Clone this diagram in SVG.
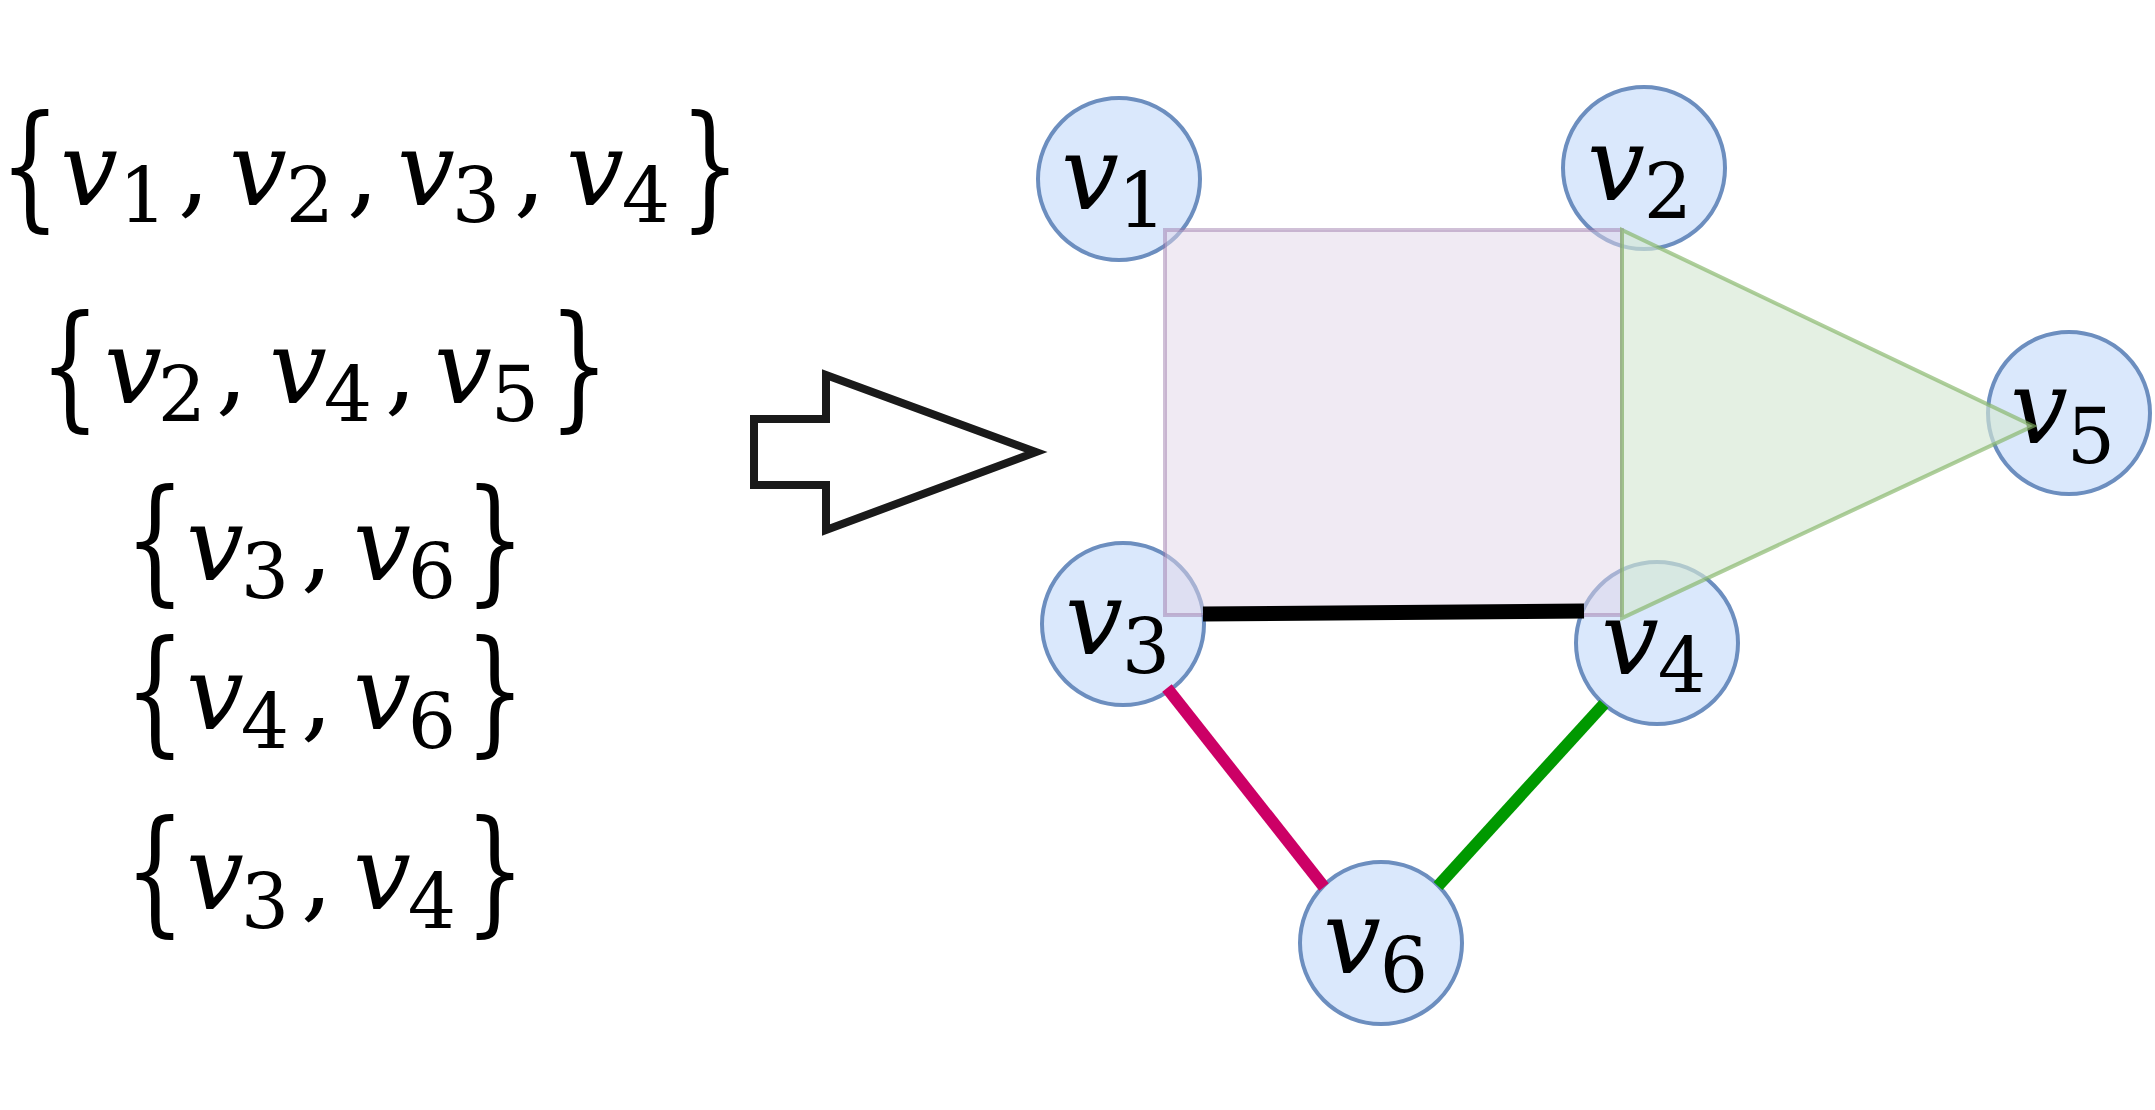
<svg xmlns="http://www.w3.org/2000/svg" width="2155" height="1110" viewBox="0 0 2155 1110">
<style>
.v{font-family:'DejaVu Serif',serif;font-style:italic;font-size:102px;text-anchor:middle;fill:#000}
.d{font-family:'DejaVu Serif',serif;font-size:76px;text-anchor:middle;fill:#000}
.c{font-family:'DejaVu Serif',serif;font-size:100px;text-anchor:middle;fill:#000}
.b{font-family:'DejaVu Serif',serif;font-size:100px;text-anchor:middle;fill:#000}
.node{fill:#dae8fc;stroke:#6c8ebf;stroke-width:4}
</style>
<rect width="2155" height="1110" fill="#fff"/>
<g id="sets">
<g id="set1">
<text class="b" transform="translate(30,213) scale(0.95,1.36)">{</text>
<text class="v" x="89" y="205">v</text><text class="d" x="143" y="222">1</text><text class="c" x="194" y="205">,</text>
<text class="v" x="258" y="205">v</text><text class="d" x="310" y="222">2</text><text class="c" x="363" y="205">,</text>
<text class="v" x="426" y="205">v</text><text class="d" x="476" y="222">3</text><text class="c" x="530" y="205">,</text>
<text class="v" x="595" y="205">v</text><text class="d" x="646" y="222">4</text>
<text class="b" transform="translate(710,213) scale(0.95,1.36)">}</text>
</g>
<g id="set2">
<text class="b" transform="translate(70,413) scale(0.95,1.36)">{</text>
<text class="v" x="133" y="403">v</text><text class="d" x="182" y="421">2</text><text class="c" x="232" y="403">,</text>
<text class="v" x="298" y="403">v</text><text class="d" x="348" y="421">4</text><text class="c" x="401" y="403">,</text>
<text class="v" x="463" y="403">v</text><text class="d" x="515" y="421">5</text>
<text class="b" transform="translate(579,413) scale(0.95,1.36)">}</text>
</g>
<g id="set3">
<text class="b" transform="translate(155,587) scale(0.95,1.36)">{</text>
<text class="v" x="215" y="580">v</text><text class="d" x="265" y="598">3</text><text class="c" x="317" y="580">,</text>
<text class="v" x="382" y="580">v</text><text class="d" x="432" y="598">6</text>
<text class="b" transform="translate(495,587) scale(0.95,1.36)">}</text>
</g>
<g id="set4">
<text class="b" transform="translate(155,738) scale(0.95,1.36)">{</text>
<text class="v" x="215" y="729">v</text><text class="d" x="265" y="748">4</text><text class="c" x="317" y="729">,</text>
<text class="v" x="382" y="729">v</text><text class="d" x="432" y="748">6</text>
<text class="b" transform="translate(495,738) scale(0.95,1.36)">}</text>
</g>
<g id="set5">
<text class="b" transform="translate(155,918) scale(0.95,1.36)">{</text>
<text class="v" x="215" y="909">v</text><text class="d" x="265" y="928">3</text><text class="c" x="317" y="909">,</text>
<text class="v" x="382" y="909">v</text><text class="d" x="432" y="928">4</text>
<text class="b" transform="translate(495,918) scale(0.95,1.36)">}</text>
</g>
</g>
<g id="arrow">
<polygon points="754,419 826,419 826,375 1036,452 826,530 826,485 754,485" fill="#fff" stroke="#1a1a1a" stroke-width="8" stroke-linejoin="miter"/>
</g>
<g id="nodes">
<g id="v1"><circle class="node" cx="1119" cy="179" r="81"/><text class="v" x="1090" y="209">v</text><text class="d" x="1142" y="227">1</text></g>
<g id="v2"><circle class="node" cx="1644" cy="168" r="81"/><text class="v" x="1616" y="200">v</text><text class="d" x="1668" y="218">2</text></g>
<g id="v5"><circle class="node" cx="2069" cy="413" r="81"/><text class="v" x="2039" y="443">v</text><text class="d" x="2091" y="463">5</text></g>
<g id="v3"><circle class="node" cx="1123" cy="624" r="81"/><text class="v" x="1094" y="654">v</text><text class="d" x="1146" y="673">3</text></g>
<g id="v4"><circle class="node" cx="1657" cy="643" r="81"/><text class="v" x="1630" y="674">v</text><text class="d" x="1682" y="692">4</text></g>
<g id="v6"><circle class="node" cx="1381" cy="943" r="81"/><text class="v" x="1352" y="973">v</text><text class="d" x="1404" y="992">6</text></g>
</g>
<g id="hyperedges">
<rect x="1165" y="230" width="457" height="385" fill="#e1d5e7" fill-opacity="0.5" stroke="#9673a6" stroke-opacity="0.45" stroke-width="4"/>
<polygon points="1622,230 2033,426 1622,618" fill="#d5e8d4" fill-opacity="0.65" stroke="#82b366" stroke-opacity="0.65" stroke-width="4"/>
</g>
<g id="connectors">
<line x1="1203" y1="614" x2="1584" y2="611" stroke="#000" stroke-width="15"/>
<line x1="1167" y1="688" x2="1324" y2="887" stroke="#cc0066" stroke-width="12"/>
<line x1="1604" y1="704" x2="1438" y2="886" stroke="#009900" stroke-width="12"/>
</g>
</svg>
